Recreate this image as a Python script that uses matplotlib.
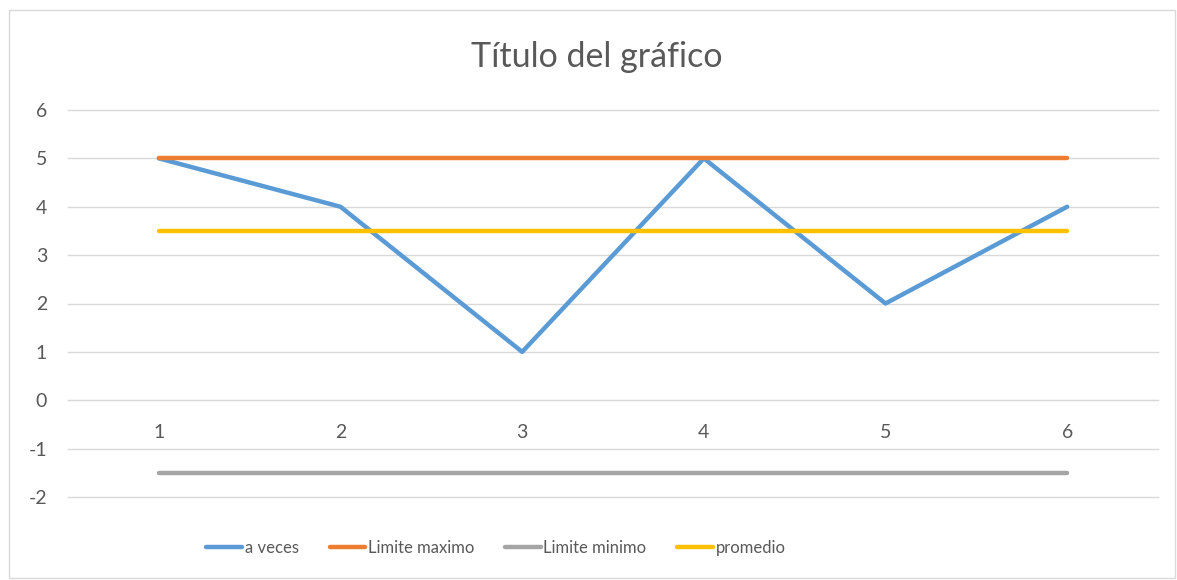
import matplotlib.pyplot as plt
from matplotlib.patches import Rectangle

# Datos del gráfico
categorias = [1, 2, 3, 4, 5, 6]
a_veces = [5, 4, 1, 5, 2, 4]
limite_maximo = [5, 5, 5, 5, 5, 5]
limite_minimo = [-1.5, -1.5, -1.5, -1.5, -1.5, -1.5]
promedio = [3.5, 3.5, 3.5, 3.5, 3.5, 3.5]
marcas_y = [-2, -1, 0, 1, 2, 3, 4, 5, 6]

texto = '#595959'
plt.rcParams['font.family'] = ['Lato', 'DejaVu Sans']
plt.rcParams['axes.unicode_minus'] = False

fig = plt.figure(figsize=(11.77, 5.8), dpi=100)
ax = fig.add_axes([68 / 1177, 1 - 497 / 580, 1090 / 1177, 387 / 580])

# Borde del área del gráfico
fig.patches.append(Rectangle((9 / 1177, 2 / 580), 1166 / 1177, 568 / 580,
                             transform=fig.transFigure, fill=False,
                             edgecolor='#D9D9D9', linewidth=1))

# Líneas de cuadrícula horizontales (sin recorte en los bordes)
for y in marcas_y:
    ax.axhline(y, color='#D9D9D9', lw=1, clip_on=False, zorder=0)

ax.plot(categorias, a_veces, color='#5B9BD5', lw=3.2, label='a veces',
        solid_capstyle='round', solid_joinstyle='round')
ax.plot(categorias, limite_maximo, color='#ED7D31', lw=3.2, label='Limite maximo',
        solid_capstyle='round')
ax.plot(categorias, limite_minimo, color='#A5A5A5', lw=3.2, label='Limite minimo',
        solid_capstyle='round')
ax.plot(categorias, promedio, color='#FFC000', lw=3.2, label='promedio',
        solid_capstyle='round')

ax.set_xlim(0.5, 6.5)
ax.set_ylim(-2, 6)
ax.set_yticks(marcas_y)
ax.set_xticks(categorias)

for lado in ['top', 'right', 'left']:
    ax.spines[lado].set_visible(False)
ax.spines['bottom'].set_position(('data', 0))
ax.spines['bottom'].set_color('#D9D9D9')
ax.tick_params(axis='both', length=0, labelsize=14, colors=texto)
ax.tick_params(axis='x', pad=17)
ax.tick_params(axis='y', pad=15)
ax.set_facecolor('none')

fig.text(597 / 1177, 1 - 57 / 580, 'Título del gráfico', ha='center', va='center',
         fontsize=24.5, color=texto)

leg = fig.legend(loc='center', bbox_to_anchor=(496 / 1177, 1 - 548 / 580), ncol=4,
                 frameon=False, fontsize=12, handlelength=2.15, handletextpad=0.15,
                 columnspacing=1.85)
for t in leg.get_texts():
    t.set_color(texto)

fig.savefig('out.png', dpi=100)
